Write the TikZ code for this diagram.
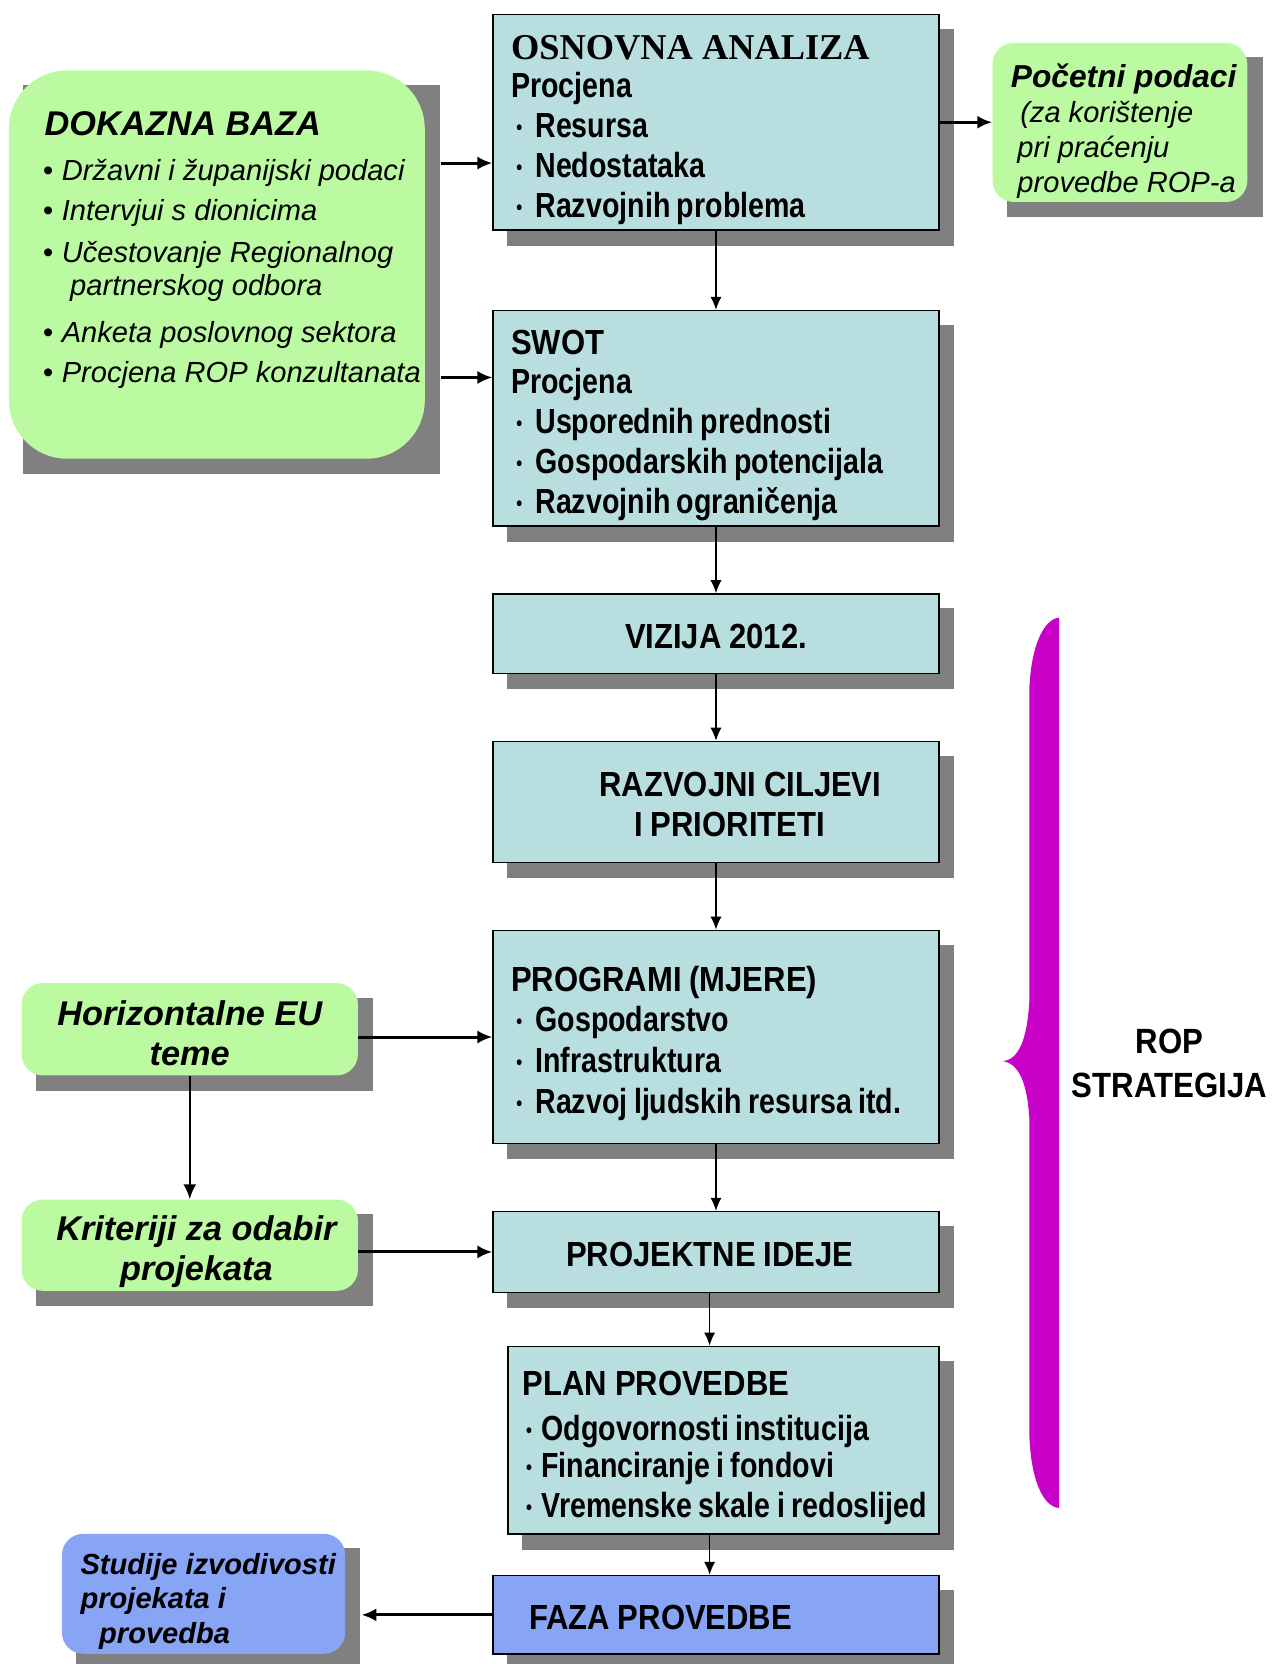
\documentclass[tikz,border=0pt]{standalone}
\usepackage{fontspec}
\setmainfont{Liberation Sans}
\newfontfamily\narrowfont{Liberation Sans}[FakeStretch=0.82, WordSpace=0.82]
\newfontfamily\narrowcaps{Liberation Sans}[FakeStretch=0.89, WordSpace=0.89]
\newfontfamily\serifhead{Liberation Serif}
\usetikzlibrary{arrows.meta,backgrounds}

\definecolor{srcgreen}{RGB}{187,250,160}
\definecolor{stageblue}{RGB}{185,222,224}
\definecolor{fazablue}{RGB}{136,164,244}
\definecolor{shadowgray}{RGB}{128,128,128}
\definecolor{bracemagenta}{RGB}{200,0,200}

\newcommand\boxfont{\narrowfont\bfseries\fontsize{18.7}{21.5}\selectfont}
\newcommand\srcfont{\itshape\fontsize{15.6}{21.5}\selectfont}
\newcommand\srchead{\bfseries\itshape\fontsize{18.4}{21.5}\selectfont}
\newcommand\srcbul{\makebox[10.2pt][l]{\textbullet}}
\newcommand\smallbul{\makebox[13pt][l]{\hspace*{2.8pt}\raisebox{1.6pt}{\fontsize{11}{11}\selectfont\textbullet}}}
\newcommand\planbul{\makebox[10pt][l]{\hspace*{1.7pt}\raisebox{1.6pt}{\fontsize{11}{11}\selectfont\textbullet}}}
\newcommand\lift[1]{\rule{0pt}{#1}}
\newcommand\castshadow[1]{\fill[shadowgray] ([shift={(14,14)}]#1.north west) rectangle ([shift={(14,14)}]#1.south east);}

\begin{document}
\begin{tikzpicture}[x=0.02cm, y=-0.02cm]
    \tikzstyle{stage}=[draw, line width=0.8pt, fill=stageblue, anchor=north west, minimum width=8.4cm, inner xsep=0.34cm, inner ysep=0pt, text width=7.72cm, align=flush left, font=\boxfont]
    \tikzstyle{source}=[fill=srcgreen, rounded corners=0.4cm, anchor=north west, inner sep=0pt, align=flush center]
    \tikzstyle{flow}=[-{Latex[length=7pt, width=6pt]}, line width=0.8pt]
    \tikzstyle{feed}=[-{Latex[length=8pt, width=7pt]}, line width=1.6pt]

    \useasboundingbox (0,0) rectangle (1198,1568);

    % sources on the left
    \node[source, rounded corners=1.1cm, minimum width=7.84cm, minimum height=7.32cm] (dokazna) at (8,66) {};
    \node[anchor=north west, inner sep=0pt, align=flush left, font=\srcfont] (dokazna-text) at (40,105) {%
        {\srchead\hspace*{1pt}DOKAZNA BAZA}\\[2.3pt]
        \srcbul Državni i županijski podaci\\
        \srcbul Intervjui s dionicima\\[1.2pt]
        \srcbul Učestovanje Regionalnog\\[-3.9pt]
        \hspace*{14.7pt}partnerskog odbora\\[4pt]
        \srcbul Anketa poslovnog sektora\\
        \srcbul Procjena ROP konzultanata};
    \node[source, minimum width=6.34cm, minimum height=1.74cm, font=\srchead] (eu-teme) at (20,926) {\lift{18pt}Horizontalne EU\\ teme};
    \node[source, minimum width=6.34cm, minimum height=1.72cm, font=\srchead] (kriteriji) at (20,1130) {\lift{20.5pt}\hspace*{0.25cm}Kriteriji za odabir\\ \hspace*{0.25cm}projekata};
    \node[source, fill=fazablue, minimum width=5.34cm, minimum height=2.26cm, align=flush left, font={\bfseries\itshape\fontsize{15.6}{18.4}\selectfont}] (studije) at (58,1445) {\lift{19.4pt}\hspace*{5pt}Studije izvodivosti\\ \hspace*{5pt}projekata i\\ \hspace*{15pt}provedba};
    \node[source, minimum width=4.8cm, minimum height=3cm, align=flush left, font={\itshape\fontsize{15.6}{18.9}\selectfont}] (pocetni) at (935,40) {%
        {\bfseries\fontsize{17}{18.9}\selectfont\lift{22pt}\hspace*{4pt}Početni podaci}\\
        \hspace*{9pt}(za korištenje\\
        \hspace*{7.5pt}pri praćenju\\
        \hspace*{7.5pt}provedbe ROP-a};

    % main column
    \node[stage, minimum height=4.06cm] (osnovna) at (464,13) {{\serifhead\fontsize{19.5}{21.5}\selectfont\lift{21.2pt}OSNOVNA ANALIZA}\\[-1pt] Procjena\\ \smallbul Resursa\\ \smallbul Nedostataka\\ \smallbul Razvojnih problema};
    \node[stage, minimum height=4.06cm] (swot) at (464,292) {{\narrowcaps\lift{21pt}SWOT}\\[-1pt] Procjena\\ \smallbul Usporednih prednosti\\ \smallbul Gospodarskih potencijala\\ \smallbul Razvojnih ograničenja};
    \node[stage, minimum height=1.5cm, align=flush center, font=\boxfont\narrowcaps] (vizija) at (464,559) {\lift{16.3pt}VIZIJA 2012.};
    \node[stage, minimum height=2.28cm, align=flush center, font=\boxfont\narrowcaps] (ciljevi) at (464,698) {\lift{15.7pt}\hspace*{0.92cm}RAZVOJNI CILJEVI\\ \hspace*{0.52cm}I PRIORITETI};
    \node[stage, minimum height=4.02cm] (programi) at (464,876) {{\narrowcaps\lift{20.6pt}PROGRAMI (MJERE)}\\ \smallbul Gospodarstvo\\[0.5pt] \smallbul Infrastruktura\\[0.5pt] \smallbul Razvoj ljudskih resursa itd.};
    \node[stage, minimum height=1.52cm, align=flush center, font=\boxfont\narrowcaps] (ideje) at (464,1141) {\lift{16.3pt}PROJEKTNE IDEJE\hspace*{0.24cm}\null};
    \node[stage, minimum width=8.12cm, inner xsep=0cm, text width=8.12cm, minimum height=3.54cm] (plan) at (478,1268) {%
        \lift{21pt}\hspace*{0.28cm}{\narrowcaps PLAN PROVEDBE}\\[3pt]
        \hspace*{0.28cm}\planbul Odgovornosti institucija\\[-2pt]
        \hspace*{0.28cm}\planbul Financiranje i fondovi\\
        \hspace*{0.28cm}\planbul\mbox{Vremenske skale i redoslijed}};
    \node[stage, fill=fazablue, minimum height=1.48cm, font=\boxfont\narrowcaps] (faza) at (464,1484) {\lift{16.3pt}\hspace*{0.34cm}FAZA PROVEDBE};

    % brace and strategy label
    \fill[bracemagenta] (998,582) -- (998,1421) .. controls (985,1420) and (972,1400) .. (970,1354) -- (970,1055)
        .. controls (968,1020) and (960,1002) .. (945,1000) .. controls (960,998) and (968,980) .. (970,942)
        -- (970,648) .. controls (972,605) and (985,583) .. (998,582) -- cycle;
    \node[font={\narrowcaps\bfseries\fontsize{18.8}{23.8}\selectfont}, align=flush center] (rop) at (1102,1002) {ROP\\ STRATEGIJA};

    \begin{pgfonlayer}{background}
        \castshadow{dokazna}
        \castshadow{eu-teme}
        \castshadow{kriteriji}
        \castshadow{studije}
        \castshadow{pocetni}
        \castshadow{osnovna}
        \castshadow{swot}
        \castshadow{vizija}
        \castshadow{ciljevi}
        \castshadow{programi}
        \castshadow{ideje}
        \castshadow{plan}
        \castshadow{faza}
    \end{pgfonlayer}

    \coordinate (dok-in) at ([yshift=-0.77cm]osnovna.west);
    \coordinate (swot-in) at ([yshift=0.77cm]swot.west);
    \coordinate (plan-in) at ([xshift=-0.12cm]ideje.south |- plan.north);
    \coordinate (faza-in) at ([xshift=-0.26cm]plan.south |- faza.north);

    \draw[flow] (osnovna) -- (swot);
    \draw[flow] (swot) -- (vizija);
    \draw[flow] (vizija) -- (ciljevi);
    \draw[flow] (ciljevi) -- (programi);
    \draw[flow] (programi) -- (ideje);
    \draw[flow] (plan-in |- ideje.south) -- (plan-in);
    \draw[flow] (faza-in |- plan.south) -- (faza-in);

    \draw[feed, shorten <=0.3cm] (dokazna.east |- dok-in) -- (dok-in);
    \draw[feed, shorten <=0.3cm] (dokazna.east |- swot-in) -- (swot-in);
    \draw[feed] (osnovna.east) -- (osnovna.east -| pocetni.west);
    \draw[feed] (eu-teme.east |- programi.west) -- (programi.west);
    \draw[feed, line width=1.2pt] (eu-teme) -- (kriteriji);
    \draw[feed] (kriteriji.east |- ideje.west) -- (ideje.west);
    \draw[feed, shorten >=0.3cm] (faza.west) -- (faza.west -| studije.east);
\end{tikzpicture}
\end{document}
